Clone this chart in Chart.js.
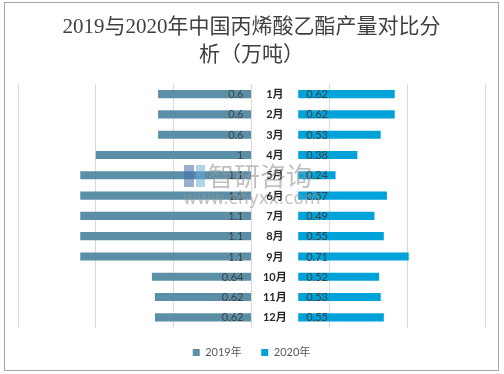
<!DOCTYPE html>
<html>
<head>
<meta charset="utf-8">
<script src="https://cdn.jsdelivr.net/npm/chart.js@4/dist/chart.umd.min.js"></script>
<style>
  html, body { margin: 0; padding: 0; background: #fff; }
  #wrap { width: 504px; height: 374px; position: relative; }
</style>
</head>
<body>
<div id="wrap"><canvas id="c" width="504" height="374"></canvas></div>
<script>
const months = ['1月','2月','3月','4月','5月','6月','7月','8月','9月','10月','11月','12月'];
const v2019 = [0.6, 0.6, 0.6, 1, 1.1, 1.1, 1.1, 1.1, 1.1, 0.64, 0.62, 0.62];
const v2020 = [0.62, 0.62, 0.53, 0.38, 0.24, 0.57, 0.49, 0.55, 0.71, 0.52, 0.53, 0.55];
const seriesNames = ['2019年', '2020年'];
const GAP = 0.3;
const AXIS_MIN = -1.5, AXIS_MAX = 1.5, AXIS_STEP = 0.5;

const frame = {
  id: 'frame',
  beforeDraw(chart) {
    const ctx = chart.ctx;
    ctx.save();
    ctx.fillStyle = '#fff';
    ctx.fillRect(0, 0, chart.width, chart.height);
    ctx.strokeStyle = '#a6a6a6';
    ctx.lineWidth = 1;
    ctx.strokeRect(4.5, 2.5, 494, 368);
    ctx.restore();
  }
};

const labelsPlugin = {
  id: 'labelsPlugin',
  afterDatasetsDraw(chart) {
    const ctx = chart.ctx;
    const xs = chart.scales.x, ys = chart.scales.y;
    ctx.save();
    ctx.textBaseline = 'middle';
    months.forEach((m, i) => {
      const y = ys.getPixelForValue(i);
      ctx.font = 'bold 11px Lato, "Noto Sans CJK SC"';
      ctx.fillStyle = '#262626';
      ctx.textAlign = 'center';
      ctx.fillText(m, xs.getPixelForValue(GAP / 2), y + 0.5);
      ctx.font = '11px Lato, "Noto Sans CJK SC"';
      ctx.fillStyle = '#404040';
      ctx.textAlign = 'right';
      ctx.fillText(String(v2019[i]), xs.getPixelForValue(0) - 8, y + 0.5);
      ctx.textAlign = 'left';
      ctx.fillText(String(v2020[i]), xs.getPixelForValue(GAP) + 8, y + 0.5);
    });
    // watermark
    ctx.fillStyle = 'rgba(150,150,150,0.6)';
    ctx.textAlign = 'left';
    ctx.font = '26px "Noto Sans CJK SC"';
    ctx.fillText('智研咨询', 208, 176);
    ctx.font = '17px "DejaVu Sans"';
    ctx.fillText('www.chyxx.com', 183, 200);
    ctx.fillStyle = 'rgba(70,110,170,0.55)';
    ctx.fillRect(184, 165, 10, 22);
    ctx.fillStyle = 'rgba(100,170,220,0.5)';
    ctx.fillRect(196, 165, 9, 22);
    ctx.restore();
  }
};

new Chart(document.getElementById('c'), {
  type: 'bar',
  data: {
    labels: months,
    datasets: [
      {
        label: seriesNames[0],
        data: v2019.map(v => [-v, 0]),
        backgroundColor: '#5b8fa8',
        barPercentage: 0.4,
        categoryPercentage: 1,
        grouped: false
      },
      {
        label: seriesNames[1],
        data: v2020.map(v => [GAP, GAP + v]),
        backgroundColor: '#00a2da',
        barPercentage: 0.4,
        categoryPercentage: 1,
        grouped: false
      }
    ]
  },
  options: {
    indexAxis: 'y',
    responsive: false,
    animation: false,
    layout: { padding: { top: 0, left: 18, right: 19, bottom: 6 } },
    scales: {
      x: {
        min: AXIS_MIN, max: AXIS_MAX,
        ticks: { display: false, stepSize: AXIS_STEP },
        grid: { color: '#d9d9d9', drawTicks: false },
        border: { display: false }
      },
      y: { display: false }
    },
    plugins: {
      title: {
        display: true,
        text: ['2019与2020年中国丙烯酸乙酯产量对比分', '析（万吨）'],
        color: '#404040',
        font: { family: '"Liberation Serif", "Noto Sans CJK SC"', size: 21, weight: 'normal', lineHeight: 1.333 },
        padding: { top: 13, bottom: 15 }
      },
      legend: {
        position: 'bottom',
        labels: {
          boxWidth: 7, boxHeight: 7, padding: 19.5,
          color: '#595959',
          font: { family: 'Lato, "Noto Sans CJK SC"', size: 11 }
        }
      },
      tooltip: { enabled: false }
    }
  },
  plugins: [frame, labelsPlugin]
});
</script>
</body>
</html>
